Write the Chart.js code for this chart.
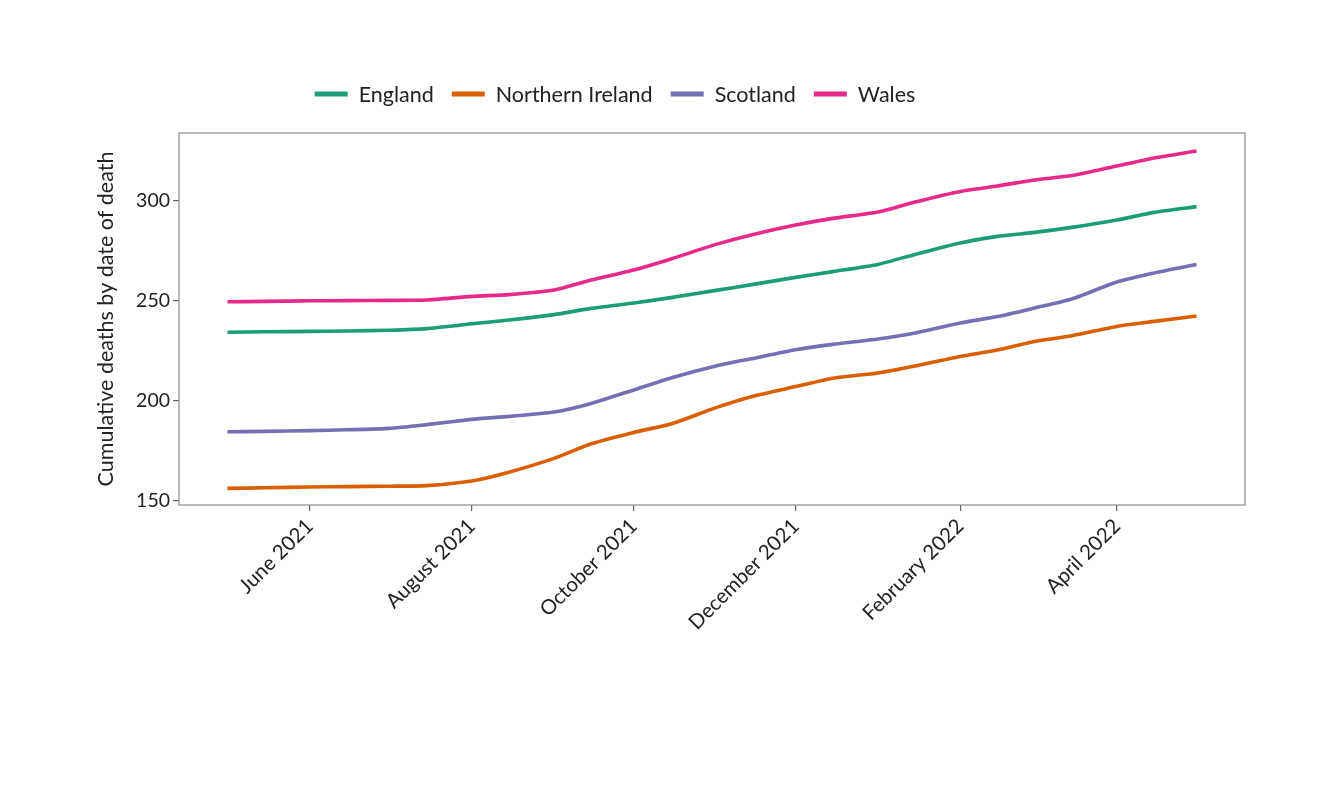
<!DOCTYPE html>
<html>
<head>
<meta charset="utf-8">
<script src="https://cdn.jsdelivr.net/npm/chart.js@4/dist/chart.umd.min.js"></script>
<style>
  html, body { margin: 0; padding: 0; background: #fff; }
  #wrap { width: 1339px; height: 788px; }
</style>
</head>
<body>
<div id="wrap"><canvas id="deaths-Chart"></canvas></div>
<script>
// sample dates (roughly fortnightly)
const dates = [
  "2021-05-01", "2021-05-15", "2021-06-01", "2021-06-15", "2021-07-01",
  "2021-07-15", "2021-08-01", "2021-08-15", "2021-09-01", "2021-09-15",
  "2021-10-01", "2021-10-15", "2021-11-01", "2021-11-15", "2021-12-01",
  "2021-12-15", "2022-01-01", "2022-01-15", "2022-02-01", "2022-02-15",
  "2022-03-01", "2022-03-15", "2022-04-01", "2022-04-15", "2022-05-01",
];

const england = [
  234.4, 234.6, 234.8, 235.0, 235.4, 236.2, 238.6, 240.5, 243.2, 246.3,
  249.0, 251.7, 255.3, 258.3, 261.8, 264.7, 268.3, 273.3, 279.0, 282.3,
  284.3, 286.8, 290.5, 294.3, 297.2,
];
const northernIreland = [
  156.3, 156.6, 157.0, 157.2, 157.4, 157.7, 160.0, 164.4, 171.3, 178.6,
  184.3, 188.5, 196.7, 202.4, 207.2, 211.4, 214.0, 217.5, 222.3, 225.5,
  229.8, 232.6, 237.3, 239.8, 242.5,
];
const scotland = [
  184.6, 184.8, 185.2, 185.6, 186.3, 188.2, 190.8, 192.3, 194.5, 198.8,
  205.5, 211.5, 217.5, 221.3, 225.6, 228.3, 231.0, 234.0, 239.0, 242.2,
  246.5, 251.0, 259.5, 264.0, 268.3,
];
const wales = [
  249.6, 249.8, 250.1, 250.2, 250.3, 250.5, 252.3, 253.2, 255.5, 260.5,
  265.5, 271.0, 278.3, 283.3, 288.0, 291.3, 294.5, 299.5, 304.8, 307.5,
  310.5, 312.7, 317.5, 321.5, 325.0,
];

const seriesNames = ["England", "Northern Ireland", "Scotland", "Wales"];
const seriesColors = ["#1b9e77", "#d95f02", "#7570b3", "#e7298a"];

const tickDates = ["2021-06-01", "2021-08-01", "2021-10-01", "2021-12-01", "2022-02-01", "2022-04-01"];
const tickLabels = ["June 2021", "August 2021", "October 2021", "December 2021", "February 2022", "April 2022"];
const yTicks = [150, 200, 250, 300];

const FONT = "Lato, 'Open Sans', sans-serif";

// 日付 → 開始日からの日数
function dayIndex(iso) {
  return (Date.parse(iso) - Date.parse(dates[0])) / 86400000;
}

document.addEventListener("DOMContentLoaded", () => {
  const ctx = document.getElementById("deaths-Chart");
  if (!ctx) {
    console.error("Canvas element not found");
    return;
  }

  const allSeries = [england, northernIreland, scotland, wales];
  const span = dayIndex(dates[dates.length - 1]);
  const pad = span * 0.05;

  // 枠線 + 凡例
  const framePlugin = {
    id: "frame-legend",
    afterDraw(chart) {
      const { ctx, chartArea: { left, top, right, bottom } } = chart;
      ctx.save();
      ctx.strokeStyle = "#8a8a8a";
      ctx.lineWidth = 1.2;
      ctx.strokeRect(left, top, right - left, bottom - top);

      ctx.font = "21.5px " + FONT;
      ctx.textBaseline = "middle";
      const swatch = 33, gapText = 11, gapItem = 18;
      const items = chart.data.datasets.map((ds) => ({
        label: ds.label,
        color: ds.borderColor,
        w: ctx.measureText(ds.label).width,
      }));
      const total = items.reduce((s, it) => s + swatch + gapText + it.w, 0) + gapItem * (items.length - 1);
      let x = 615 - total / 2;
      const y = 94;
      items.forEach((it) => {
        ctx.strokeStyle = it.color;
        ctx.lineWidth = 5;
        ctx.beginPath();
        ctx.moveTo(x, y);
        ctx.lineTo(x + swatch, y);
        ctx.stroke();
        ctx.fillStyle = "#222";
        ctx.fillText(it.label, x + swatch + gapText, y + 1);
        x += swatch + gapText + it.w + gapItem;
      });
      ctx.restore();
    },
  };

  new Chart(ctx, {
    type: "line",
    data: {
      datasets: allSeries.map((vals, i) => ({
        label: seriesNames[i],
        data: dates.map((d, j) => ({ x: dayIndex(d), y: vals[j] })),
        borderColor: seriesColors[i],
        borderWidth: 3.6,
        pointRadius: 0,
        tension: 0.2,
        fill: false,
      })),
    },
    options: {
      responsive: true,
      maintainAspectRatio: false,
      animation: false,
      layout: { padding: { top: 133, left: 93, right: 94, bottom: 0 } },
      plugins: {
        legend: { display: false },
        tooltip: { enabled: false },
      },
      scales: {
        x: {
          type: "linear",
          min: -pad,
          max: span + pad,
          afterBuildTicks(scale) {
            scale.ticks = tickDates.map((d) => ({ value: dayIndex(d) }));
          },
          afterFit(scale) {
            scale.height = 283;
          },
          border: { display: false },
          grid: { drawOnChartArea: false, drawTicks: true, tickLength: 6, color: "#666", lineWidth: 1.2 },
          ticks: {
            minRotation: 45,
            maxRotation: 45,
            padding: 3,
            color: "#222",
            font: { family: FONT, size: 20.5 },
            callback(value) {
              const i = tickDates.findIndex((d) => dayIndex(d) === value);
              return i >= 0 ? tickLabels[i] : "";
            },
          },
        },
        y: {
          type: "linear",
          min: 148,
          max: 334,
          afterBuildTicks(scale) {
            scale.ticks = yTicks.map((v) => ({ value: v }));
          },
          afterFit(scale) {
            scale.width = 86;
          },
          border: { display: false },
          grid: { drawOnChartArea: false, drawTicks: true, tickLength: 6, color: "#666", lineWidth: 1.2 },
          ticks: {
            padding: 3,
            color: "#222",
            font: { family: FONT, size: 19.5 },
          },
          title: {
            display: true,
            text: "Cumulative deaths by date of death",
            color: "#222",
            font: { family: FONT, size: 21.5 },
            padding: { top: 0, bottom: 0 },
          },
        },
      },
    },
    plugins: [framePlugin],
  });
});
</script>
</body>
</html>
